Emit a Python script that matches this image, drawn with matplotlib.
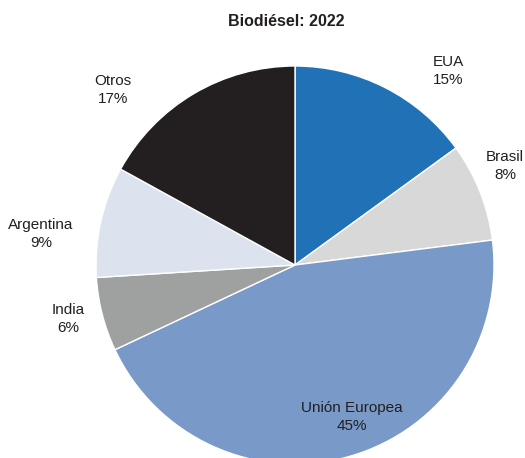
import matplotlib.pyplot as plt

# Biodiesel production share by region, 2022
regions = ['EUA', 'Brasil', 'Unión Europea', 'India', 'Argentina', 'Otros']
shares = [15, 8, 45, 6, 9, 17]
colors = ['#2171b7', '#d7d8d7', '#799ac8', '#9fa0a0', '#dde3ee', '#231f20']

# label anchor points in pixel coords (x, y from top)
label_pos = [(448, 71), (505, 166), (352, 417), (68, 319), (41, 234), (113, 90)]

W, H = 525, 458
fig = plt.figure(figsize=(W / 100, H / 100), dpi=100)
ax = fig.add_axes([0, 0, 1, 1])

ax.pie(shares, colors=colors, startangle=90, counterclock=False,
       center=(295, H - 265), radius=199, frame=True,
       wedgeprops=dict(edgecolor='white', linewidth=1.0))
ax.set_xlim(0, W)
ax.set_ylim(0, H)
ax.set_aspect('equal')
ax.axis('off')

font = ['Liberation Sans Narrow', 'Liberation Sans', 'DejaVu Sans']
for name, val, (x, y) in zip(regions, shares, label_pos):
    ax.text(x, H - y, f'{name}\n{val}%', ha='center', va='center',
            fontsize=11, family=font, color='#231f20', linespacing=1.3)

ax.text(286, H - 22, 'Biodiésel: 2022', ha='center', va='center',
        fontsize=11.5, fontweight='bold', family=['Liberation Sans', 'DejaVu Sans'],
        color='#231f20')

fig.savefig('out.png', dpi=100, facecolor='white')
